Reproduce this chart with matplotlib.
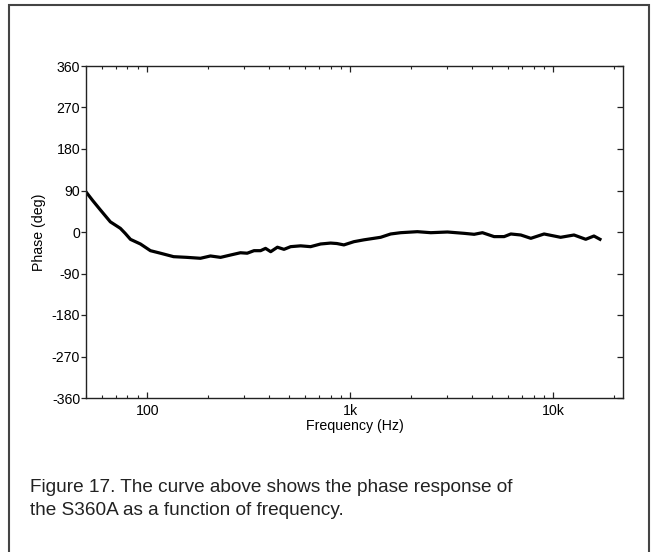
import matplotlib
matplotlib.use("Agg")
import matplotlib.pyplot as plt
import matplotlib.ticker as mticker
from matplotlib.patches import Rectangle

plt.rcParams['font.family'] = ['Liberation Sans', 'DejaVu Sans']

freq_hz = [50, 54, 58.9, 65.9, 73.8, 78, 82.8, 92.7, 103.8, 116.3, 135, 157, 183, 205, 230,
           257, 288, 311, 336, 362, 383, 406, 438, 472, 509, 570, 638, 715, 801,
           860, 931, 1043, 1168, 1412, 1582, 1772, 2142, 2494, 3013, 3640, 4077, 4480,
           5112, 5728, 6181, 6924, 7755, 9010, 10870, 12650, 14450, 15860, 16980]
phase_deg = [87, 68, 47.7, 22, 8, -3, -16, -26, -40.5, -46, -53.5, -55, -57, -52, -55,
             -50, -45, -46, -40.5, -40.5, -35.5, -42.7, -33, -37.6, -31.8, -30, -31.8, -26, -24,
             -25, -28, -21, -17, -11.5, -4.3, -1.5, 0.7, -1.5, 0, -2.9, -5, -1.5,
             -10, -10, -4.3, -6.5, -13.7, -4.3, -11.5, -6.5, -15.8, -8.7, -15.8]
y_ticks = [-360, -270, -180, -90, 0, 90, 180, 270, 360]
x_major = [100, 1000, 10000]
x_major_labels = ['100', '1k', '10k']
caption = "Figure 17. The curve above shows the phase response of\nthe S360A as a function of frequency."

W, H = 658, 552
fig = plt.figure(figsize=(W / 100, H / 100), dpi=100)
ax = fig.add_axes([86 / W, 1 - 398 / H, (623 - 86) / W, (398 - 66) / H])

ax.plot(freq_hz, phase_deg, color='black', lw=2.3, solid_joinstyle='round')
ax.set_xscale('log')
ax.set_xlim(50, 22050)
ax.set_ylim(-360, 360)
ax.set_yticks(y_ticks)
ax.set_yticklabels([str(v) for v in y_ticks])
ax.xaxis.set_major_locator(mticker.FixedLocator(x_major))
ax.xaxis.set_major_formatter(mticker.FixedFormatter(x_major_labels))
ax.xaxis.set_minor_locator(mticker.LogLocator(base=10, subs=range(2, 10), numticks=20))
ax.xaxis.set_minor_formatter(mticker.NullFormatter())

for s in ax.spines.values():
    s.set_linewidth(1.0)
    s.set_color('#222222')

ax.tick_params(axis='x', which='both', direction='in', top=True, bottom=True,
               labelsize=10.2, pad=4, color='#222222')
ax.tick_params(axis='x', which='major', length=4.0, width=0.9)
ax.tick_params(axis='x', which='minor', length=2.2, width=0.8)
ax.tick_params(axis='y', which='both', direction='out', left=True, right=False,
               labelsize=10.2, length=3.3, width=0.9, pad=1.0, color='#222222')
sec = ax.secondary_yaxis('right')
sec.set_yticks(y_ticks)
sec.tick_params(axis='y', direction='in', length=4.0, width=0.9, labelright=False, color='#222222')
sec.spines['right'].set_visible(False)

ax.set_xlabel('Frequency (Hz)', fontsize=10.2, labelpad=1)
ax.set_ylabel('Phase (deg)', fontsize=10.2, labelpad=4)

fig.add_artist(Rectangle((8.7 / W, -0.05), (649 - 8.7) / W, 1.05 - 5 / H,
                         transform=fig.transFigure, fill=False, edgecolor='#444444',
                         lw=1.5, clip_on=False))

fig.text(30 / W, 1 - 479 / H, caption, fontsize=13.7, va='top', ha='left',
         color='#222222', linespacing=1.45)

fig.savefig('out.png', dpi=100)
